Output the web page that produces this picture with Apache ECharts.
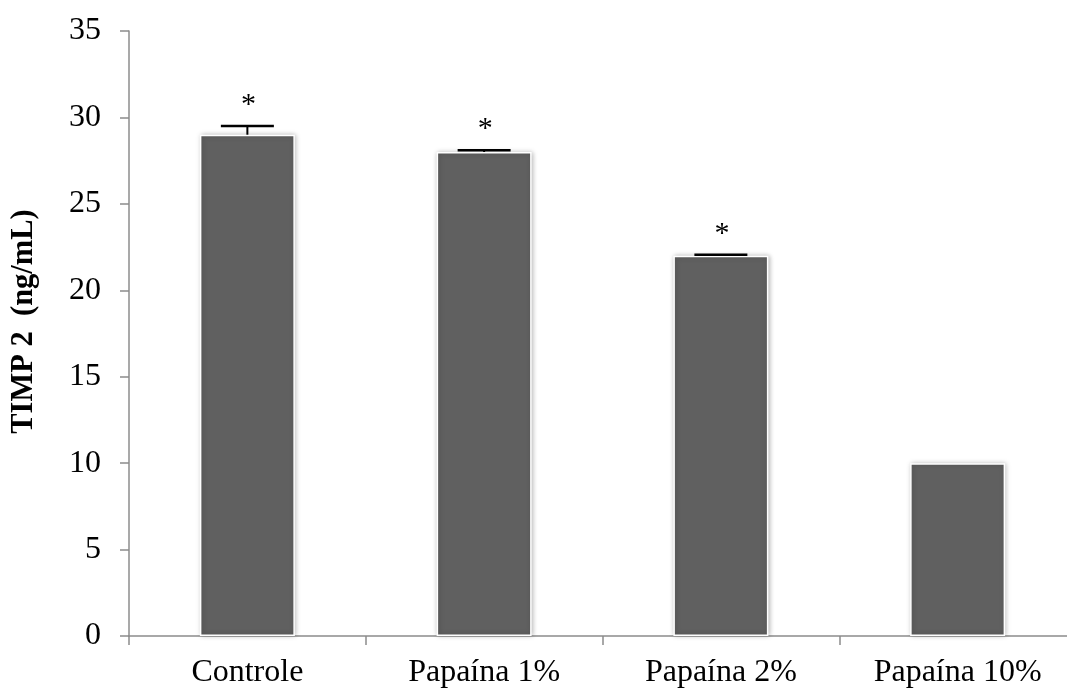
<!DOCTYPE html>
<html>
<head>
<meta charset="utf-8">
<script src="https://cdn.jsdelivr.net/npm/echarts@6/dist/echarts.min.js"></script>
<style>
  html, body { margin: 0; padding: 0; background: #fff; }
  #chart { width: 1067px; height: 688px; }
</style>
</head>
<body>
<div id="chart"></div>
<script>
// TIMP 2 concentration per treatment group
const categories = ['Controle', 'Papaína 1%', 'Papaína 2%', 'Papaína 10%'];
const means = [29, 28, 22, 10];
const errors = [0.5, 0.1, 0.05, 0];
const marks = ['*', '*', '*', ''];
const yTicks = { min: 0, max: 35, interval: 5 };
const yTitle = 'TIMP 2  (ng/mL)';

const FONT = '"Liberation Serif", "Times New Roman", serif';

const chart = echarts.init(document.getElementById('chart'), null, { renderer: 'canvas' });

const errorData = means.map((m, i) => [i, m, m + errors[i], marks[i], errors[i]]);

chart.setOption({
  animation: false,
  grid: {
    left: 129,
    right: -9,
    top: 31,
    bottom: 52,
    containLabel: false,
    outerBoundsMode: 'none'
  },
  xAxis: {
    type: 'category',
    data: categories,
    axisLine: { lineStyle: { color: '#8c8c8c', width: 1.5 } },
    axisTick: { show: true, length: 9, alignWithLabel: false, lineStyle: { color: '#8c8c8c', width: 1.5 } },
    axisLabel: { fontFamily: FONT, fontSize: 32, color: '#000', margin: 21, interval: 0 },
    splitLine: { show: false }
  },
  yAxis: {
    type: 'value',
    min: yTicks.min,
    max: yTicks.max,
    interval: yTicks.interval,
    name: yTitle,
    nameLocation: 'middle',
    nameGap: 89,
    nameRotate: 90,
    nameTextStyle: {
      fontFamily: FONT, fontSize: 30.5, fontWeight: 'bold', color: '#000',
      padding: [0, 0, 0, 24]
    },
    axisLine: { show: true, lineStyle: { color: '#8c8c8c', width: 1.5 } },
    axisTick: { show: true, length: 9, lineStyle: { color: '#8c8c8c', width: 1.5 } },
    axisLabel: { fontFamily: FONT, fontSize: 32, color: '#000', margin: 28 },
    splitLine: { show: false }
  },
  series: [
    {
      type: 'bar',
      data: means,
      barWidth: 95,
      itemStyle: {
        color: '#606060',
        borderColor: '#ffffff',
        borderWidth: 1.5,
        shadowColor: 'rgba(0,0,0,0.28)',
        shadowBlur: 5,
        shadowOffsetX: 1,
        shadowOffsetY: 0
      },
      z: 2
    },
    {
      type: 'custom',
      data: errorData,
      z: 3,
      renderItem: function (params, api) {
        const i = api.value(0);
        const base = api.coord([i, api.value(1)]);
        const top = api.coord([i, api.value(2)]);
        const err = api.value(4);
        const half = 26.5;
        const children = [];
        if (err > 0) {
          children.push({
            type: 'line',
            shape: { x1: top[0], y1: base[1], x2: top[0], y2: top[1] },
            style: { stroke: '#000', lineWidth: 2 }
          });
          children.push({
            type: 'line',
            shape: { x1: top[0] - half, y1: top[1], x2: top[0] + half, y2: top[1] },
            style: { stroke: '#000', lineWidth: 2.5 }
          });
        }
        const mark = marks[i];
        if (mark) {
          children.push({
            type: 'text',
            style: {
              text: mark,
              x: top[0] + 1,
              y: top[1] - 21,
              align: 'center',
              verticalAlign: 'middle',
              font: '30px ' + FONT,
              fill: '#000'
            }
          });
        }
        return { type: 'group', children: children };
      }
    }
  ]
});
</script>
</body>
</html>
